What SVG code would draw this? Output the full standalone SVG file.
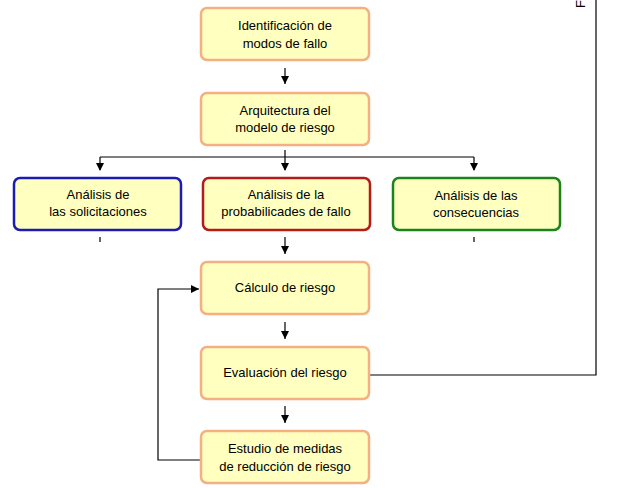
<svg xmlns="http://www.w3.org/2000/svg" width="628" height="488" viewBox="0 0 628 488">
<style>
.n{fill:#ffffc0;stroke-width:2.5}
.o{stroke:#f5b082}
t,text{font-family:"Liberation Sans",Arial,sans-serif;font-size:13px;text-anchor:middle;fill:#000}
.c{fill:none;stroke:#000;stroke-width:1.2}
</style>
<defs><marker id="a" viewBox="0 0 10 10" refX="10" refY="5" markerWidth="8" markerHeight="8" orient="auto" markerUnits="userSpaceOnUse"><path d="M0,0L10,5L0,10z"/></marker></defs>
<text x="585" y="8" transform="rotate(-90 585 8)" style="text-anchor:start">F</text>
<g id="connectors">
<path class="c" d="M285,68V84" marker-end="url(#a)"/>
<path class="c" d="M285,150V170M100,157H474M100,157V170M474,157V170" />
<path d="M96,163L100,171L104,163zM281,163L285,171L289,163zM470,163L474,171L478,163z"/>
<path class="c" d="M100,237V242M474,237V242"/>
<path class="c" d="M285,237V254" marker-end="url(#a)"/>
<path class="c" d="M285,322V339" marker-end="url(#a)"/>
<path class="c" d="M285,406V423" marker-end="url(#a)"/>
<path class="c" d="M200,460H158V289H199" marker-end="url(#a)"/>
<path class="c" d="M370,375H596V0"/>
</g>
<g id="n1"><rect class="n o" x="201" y="8" width="168" height="52" rx="6"/><text x="285" y="30">Identificación de</text><text x="285" y="48">modos de fallo</text></g>
<g id="n2"><rect class="n o" x="201" y="93" width="168" height="52" rx="6"/><text x="285" y="115">Arquitectura del</text><text x="285" y="132">modelo de riesgo</text></g>
<g id="n3"><rect class="n" stroke="#1c1cb4" x="14" y="178" width="167" height="52" rx="6"/><text x="98" y="199">Análisis de</text><text x="98" y="216">las solicitaciones</text></g>
<g id="n4"><rect class="n" stroke="#b41c1c" x="203" y="178" width="167" height="52" rx="6"/><text x="286" y="199">Análisis de la</text><text x="286" y="216">probabilicades de fallo</text></g>
<g id="n5"><rect class="n" stroke="#1c841c" x="393" y="178" width="167" height="52" rx="6"/><text x="476" y="200">Análisis de las</text><text x="476" y="217">consecuencias</text></g>
<g id="n6"><rect class="n o" x="201" y="262" width="168" height="52" rx="6"/><text x="285" y="292">Cálculo de riesgo</text></g>
<g id="n7"><rect class="n o" x="201" y="347" width="168" height="52" rx="6"/><text x="285" y="377">Evaluación del riesgo</text></g>
<g id="n8"><rect class="n o" x="201" y="431" width="168" height="52" rx="6"/><text x="285" y="453">Estudio de medidas</text><text x="285" y="471">de reducción de riesgo</text></g>
</svg>
